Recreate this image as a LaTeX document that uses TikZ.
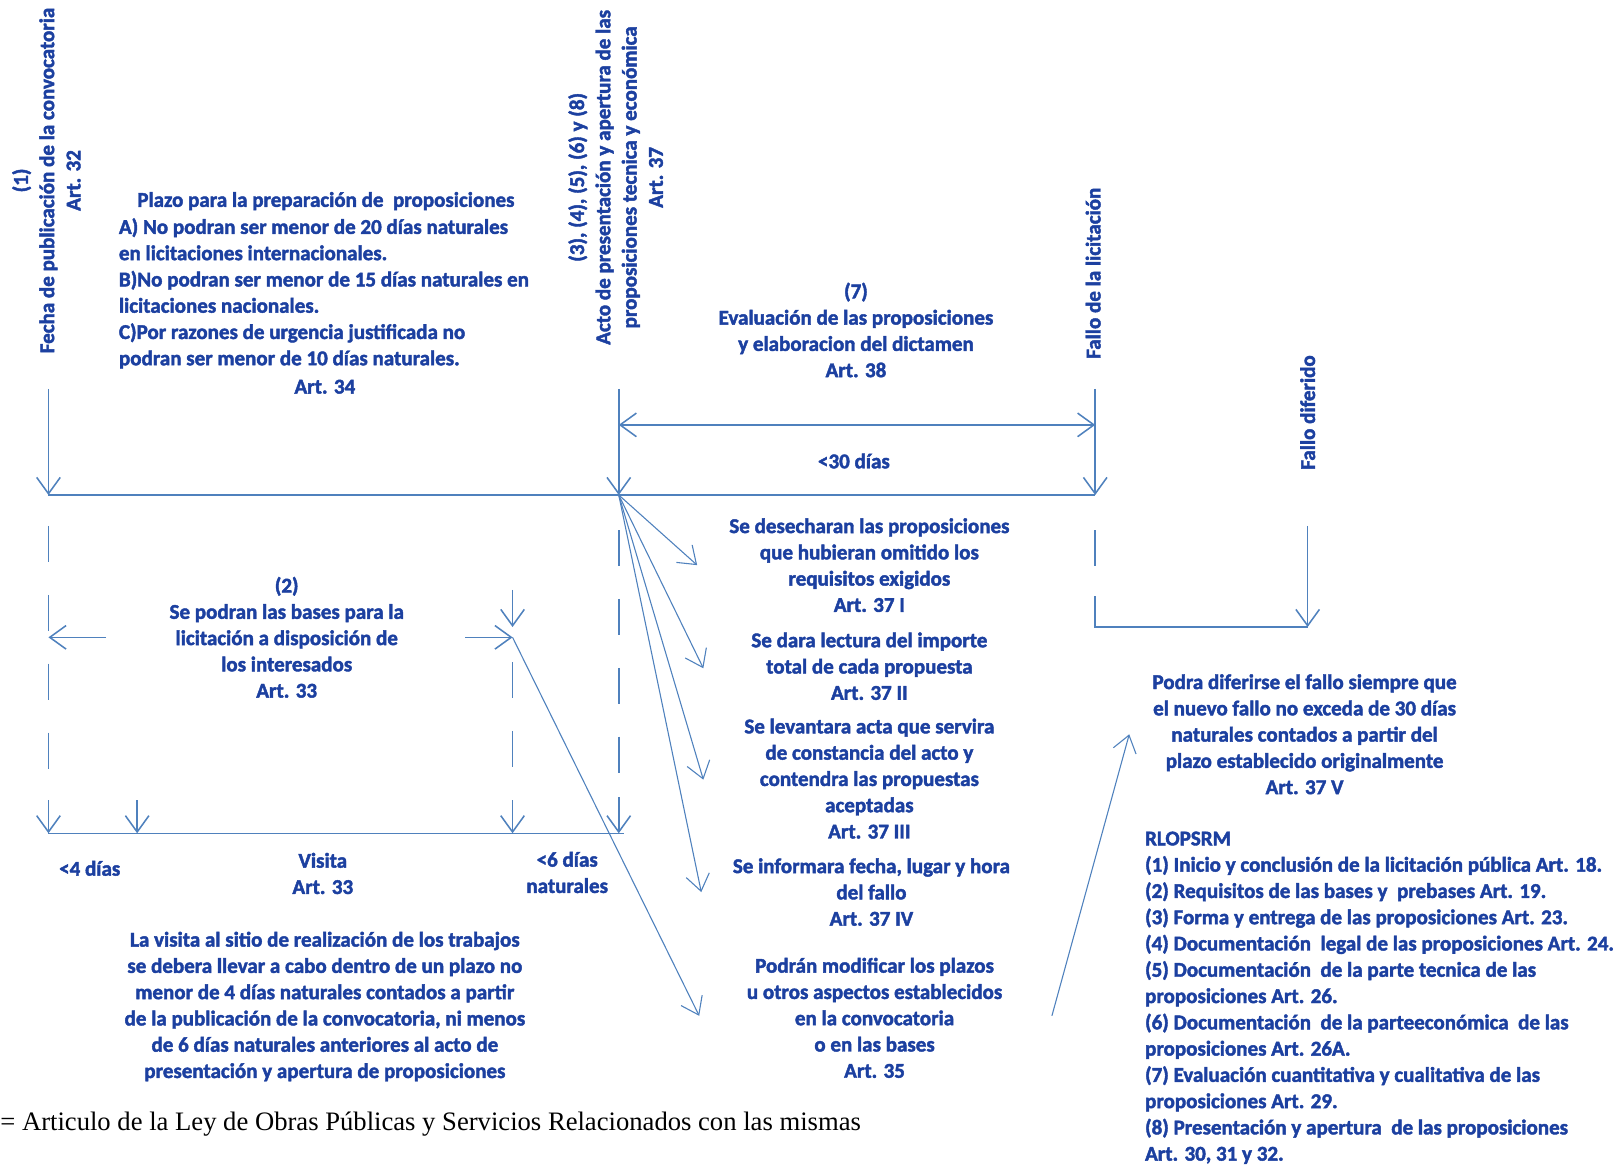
\documentclass[tikz,border=0pt]{standalone}
\usepackage{fontspec}
\setmainfont{Liberation Serif}
\newfontfamily\lblfont{Carlito}[UprightFont={* Bold}, FakeBold=2]
\usetikzlibrary{arrows.meta}

\definecolor{lineblue}{RGB}{79,129,189}
\definecolor{textblue}{RGB}{28,64,160}

\tikzset{
  barb/.tip={Straight Barb[length=9pt,width=13pt]},
  lbl/.style={text=textblue, font=\lblfont\fontsize{11.6}{14.5}\selectfont, align=center, inner sep=0pt},
  tline/.style={draw=lineblue, line width=0.85pt},
  arr/.style={tline, -barb},
  darr/.style={tline, barb-barb},
  thinarr/.style={arr, line width=0.6pt},
  dashline/.style={tline, dash pattern=on 20pt off 18pt},
}

\begin{document}
\begin{tikzpicture}[x=0.02cm, y=-0.02cm]
    \useasboundingbox (0,0) rectangle (1567,1130);

    % Points on the time line
    \coordinate (pub) at (47,480);
    \coordinate (acto) at (600,480);
    \coordinate (fallo) at (1062,480);

    % Labels above the time line
    \node[lbl, rotate=90] (publbl) at (45,175) {(1)\\Fecha de publicación de la convocatoria\\Art. 32};
    \node[lbl, rotate=90] (actolbl) at (597,172) {(3), (4), (5), (6) y (8)\\Acto de presentación y apertura de las\\proposiciones tecnica y económica\\Art. 37};
    \node[lbl, rotate=90] (fallolbl) at (1060,265) {Fallo de la licitación};
    \node[lbl, rotate=90] (diferidolbl) at (1268,400) {Fallo diferido};

    \node[lbl] (plazo) at (316,195) {Plazo para la preparación de\ \ proposiciones};
    \node[lbl, align=left, anchor=west] (plazotxt) at (115,284.5) {A) No podran ser menor de 20 días naturales\\en licitaciones internacionales.\\B)No podran ser menor de 15 días naturales en\\licitaciones nacionales.\\C)Por razones de urgencia justificada no\\podran ser menor de 10 días naturales.};
    \node[lbl] (plazoart) at (315,375) {Art. 34};

    \node[lbl] (evaluacion) at (830,320) {(7)\\Evaluación de las proposiciones\\y elaboracion del dictamen\\Art. 38};
    \node[lbl] (dias30) at (828,447) {<30 días};

    % Time line
    \draw[arr] (47,377) -- (pub);
    \draw[arr] (600,377) -- (acto);
    \draw[arr] (1062,377) -- (fallo);
    \draw[tline] (pub) -- (fallo);
    \draw[darr] (600,412) -- (1062,412);

    % Bases and visit
    \node[lbl] (bases) at (278,618) {(2)\\Se podran las bases para la\\licitación a disposición de\\los interesados\\Art. 33};
    \coordinate (basesl) at (47,618);
    \coordinate (basesr) at (497,618);
    \draw[dashline] (47,510) -- (47,746);
    \draw[arr] (103,618) -- (basesl);
    \draw[arr] (451,618) -- (basesr);
    \draw[arr] (497,572) -- (497,608);
    \draw[dashline] (497,642) -- (497,746);
    \draw[dashline] (600,514) -- (600,750);

    \draw[arr] (47,776) -- (47,808);
    \draw[arr] (133,776) -- (133,808);
    \draw[arr] (497,776) -- (497,808);
    \draw[arr] (600,773) -- (600,808);
    \draw[tline] (47,808) -- (605,808);

    \node[lbl] (dias4) at (87,842) {<4 días};
    \node[lbl] (visita) at (313,847) {Visita\\Art. 33};
    \node[lbl] (dias6) at (550,846) {<6 días\\naturales};
    \node[lbl] (visitatxt) at (315,976) {La visita al sitio de realización de los trabajos\\se debera llevar a cabo dentro de un plazo no\\menor de 4 días naturales contados a partir\\de la publicación de la convocatoria, ni menos\\de 6 días naturales anteriores al acto de\\presentación y apertura de proposiciones};

    % What happens at the act
    \node[lbl] (desecharan) at (843,548) {Se desecharan las proposiciones\\que hubieran omitido los\\requisitos exigidos\\Art. 37 I};
    \node[lbl] (lectura) at (843,646) {Se dara lectura del importe\\total de cada propuesta\\Art. 37 II};
    \node[lbl] (acta) at (843,755) {Se levantara acta que servira\\de constancia del acto y\\contendra las propuestas\\aceptadas\\Art. 37 III};
    \node[lbl] (informara) at (845,865) {Se informara fecha, lugar y hora\\del fallo\\Art. 37 IV};
    \node[lbl] (modificar) at (848,987) {Podrán modificar los plazos\\u otros aspectos establecidos\\en la convocatoria\\o en las bases\\Art. 35};

    \coordinate (tipa) at (676,548);
    \coordinate (tipb) at (682,648);
    \coordinate (tipc) at (682,756);
    \coordinate (tipd) at (680,865);
    \coordinate (tipe) at (678,985);
    \draw[thinarr] (acto) -- (tipa);
    \draw[thinarr] (acto) -- (tipb);
    \draw[thinarr] (acto) -- (tipc);
    \draw[thinarr] (acto) -- (tipd);
    \draw[thinarr] (basesr) -- (tipe);

    % Deferred ruling
    \coordinate (codo) at (1062,608);
    \coordinate (diferido) at (1268,608);
    \draw[dashline] (1062,514) -- (1062,549);
    \draw[tline] (1062,578) -- (codo) -- (diferido);
    \draw[arr] (1268,510) -- (diferido);

    \node[lbl] (diferirse) at (1265,712) {Podra diferirse el fallo siempre que\\el nuevo fallo no exceda de 30 días\\naturales contados a partir del\\plazo establecido originalmente\\Art. 37 V};
    \coordinate (tipf) at (1095,712);
    \draw[thinarr] (1020,985) -- (tipf);

    % Regulation list
    \node[lbl, align=left, anchor=west] (rlopsrm) at (1110,967.5) {RLOPSRM\\(1) Inicio y conclusión de la licitación pública Art. 18.\\(2) Requisitos de las bases y\ \ prebases Art. 19.\\(3) Forma y entrega de las proposiciones\ Art. 23.\\(4) Documentación\ \ legal de las proposiciones\ Art. 24.\\(5) Documentación\ \ de la parte tecnica de las\\proposiciones Art. 26.\\(6) Documentación\ \ de la parteeconómica\ \ de las\\proposiciones Art. 26A.\\(7) Evaluación cuantitativa y cualitativa de las\\proposiciones Art. 29.\\(8) Presentación y apertura\ \ de las proposiciones\\Art. 30, 31 y 32.};

    \node[anchor=west, font=\fontsize{14.7}{17}\selectfont, inner sep=0pt] (ley) at (0,1090) {= Articulo de la Ley de Obras Públicas y Servicios Relacionados con las mismas};

\end{tikzpicture}
\end{document}
